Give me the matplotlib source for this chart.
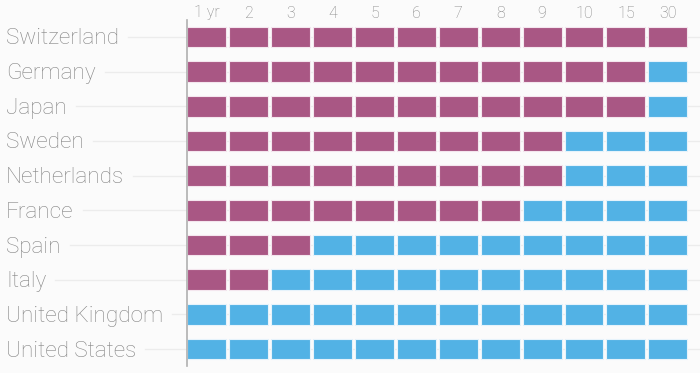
import numpy as np
import matplotlib.pyplot as plt
from matplotlib.patches import Rectangle

countries = ['Switzerland', 'Germany', 'Japan', 'Sweden', 'Netherlands',
             'France', 'Spain', 'Italy', 'United Kingdom', 'United States']
maturities = ['1 yr', '2', '3', '4', '5', '6', '7', '8', '9', '10', '15', '30']
# number of maturities (from the short end) with negative yields
negative_count = [12, 11, 11, 9, 9, 8, 3, 2, 0, 0]

neg_color = '#a95784'
pos_color = '#52b2e5'
text_color = '#858585'
bg = '#fbfbfb'

plt.rcParams['font.family'] = ['Roboto', 'DejaVu Sans']

fig = plt.figure(figsize=(7, 3.73), dpi=100, facecolor=bg)
ax = fig.add_axes([187.3/700, 1-366.4/373, 503/700, (366.4-19.6)/373])
ax.set_facecolor('none')
ax.set_xlim(0, len(maturities))
ax.set_ylim(len(countries) - 0.5, -0.5)
ax.axis('off')

h = 0.59
w = 0.928
for r, n in enumerate(negative_count):
    for c in range(len(maturities)):
        col = neg_color if c < n else pos_color
        ax.add_patch(Rectangle((c, r - h/2), w, h, facecolor=col,
                               edgecolor='#f4e6ee' if c < n else '#e6f3fb',
                               linewidth=0.8, zorder=3))

# left axis line
ax.plot([0, 0], [-0.5, len(countries) - 0.5], color='#b0b0b0', lw=1.2, zorder=4, clip_on=False)

# column labels
for c, m in enumerate(maturities):
    xd = ax.transData.transform((c + w/2, 0))[0]
    fig.text(xd/700, 1 - 17.5/373, m, ha='center', va='baseline', fontsize=11.5,
             color=text_color, fontweight='light')

# row labels + faint guide lines
fig.canvas.draw()
renderer = fig.canvas.get_renderer()
inv = ax.transData.inverted()
for r, name in enumerate(countries):
    y_disp = ax.transData.transform((0, r))[1]
    t = fig.text(6/700, (y_disp - 7.5)/373, name, ha='left', va='baseline', fontsize=16.2,
                 color=text_color, fontweight='light')
    bb = t.get_window_extent(renderer)
    x0 = inv.transform((bb.x1 + 9, y_disp))[0]
    x1 = inv.transform((700, y_disp))[0]
    ax.plot([x0, x1], [r, r], color='#ececec', lw=1, zorder=1, clip_on=False)

fig.savefig('out.png', dpi=100, facecolor=bg)
